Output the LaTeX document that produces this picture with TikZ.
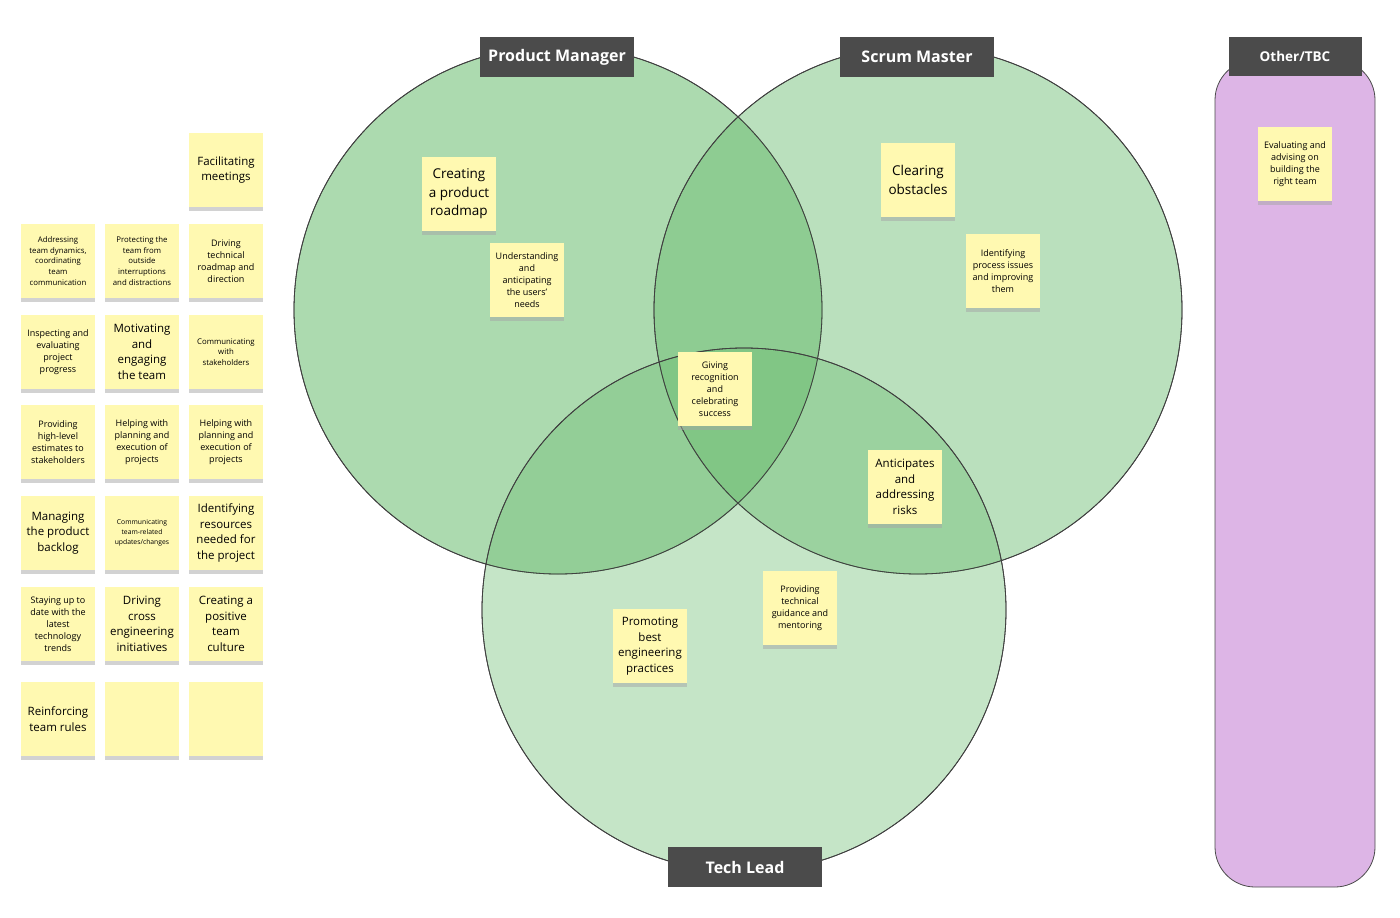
\documentclass[tikz,border=0pt]{standalone}
\usepackage{fontspec}
\setmainfont{Open Sans}
\usetikzlibrary{shadows}
\begin{document}
\begin{tikzpicture}[x=1pt,y=-1pt,
  note/.style={fill=noteY,minimum width=74pt,minimum height=74pt,align=center,inner sep=1pt,
    drop shadow={shadow xshift=0pt,shadow yshift=-4pt,fill=black!35,opacity=0.5}},
  big/.style={note,font=\fontsize{13.5}{18.5}\selectfont},
  med/.style={note,font=\fontsize{11.5}{15.5}\selectfont},
  sm/.style={note,font=\fontsize{9}{12}\selectfont},
  tiny/.style={note,font=\fontsize{7.8}{10.8}\selectfont},
  role/.style={fill=roleG,text=white,font=\bfseries\fontsize{16}{18}\selectfont,minimum width=154pt,minimum height=40pt,inner sep=0pt},
  venn/.style={draw=black!75,line width=0.8pt,fill=vennG}]
\definecolor{noteY}{RGB}{255,249,177}
\definecolor{roleG}{RGB}{75,75,75}
\definecolor{vennG}{RGB}{110,190,115}
\definecolor{purp}{RGB}{221,181,230}
\useasboundingbox (0,0) rectangle (1400,918);
\fill[white] (0,0) rectangle (1400,918);
\fill[venn,fill opacity=0.57] (558,310) circle (264);
\fill[venn,fill opacity=0.47] (918,310) circle (264);
\fill[venn,fill opacity=0.4] (744,610) circle (262);
\draw[draw=black!75,line width=0.8pt] (558,310) circle (264) (918,310) circle (264) (744,610) circle (262);
\draw[fill=purp,draw=black!70,line width=0.8pt,rounded corners=40pt] (1215,60) rectangle (1375,887);
\node[role] (pm) at (557,57) {Product Manager};
\node[role] (scm) at (917,57) {Scrum Master};
\node[role] (tl) at (745,867) {Tech Lead};
\node[role,minimum width=133pt,minimum height=39pt,font=\bfseries\fontsize{13.5}{15}\selectfont] (oth) at (1295,56) {Other/TBC};
% venn notes
\node[big] (n1) at (459,194) {Creating\\a product\\roadmap};
\node[sm] (n2) at (527,280) {Understanding\\and\\anticipating\\the users'\\needs};
\node[big] (n3) at (918,180) {Clearing\\obstacles};
\node[sm] (n4) at (1003,271) {Identifying\\process issues\\and improving\\them};
\node[sm] (n5) at (715,389) {Giving\\recognition\\and\\celebrating\\success};
\node[med] (n6) at (905,487) {Anticipates\\and\\addressing\\risks};
\node[sm] (n7) at (800,608) {Providing\\technical\\guidance and\\mentoring};
\node[med] (n8) at (650,646) {Promoting\\best\\engineering\\practices};
\node[sm] (n9) at (1295,164) {Evaluating and\\advising on\\building the\\right team};
% left grid
\node[med] (g0) at (226,170) {Facilitating\\meetings};
\node[tiny] (g1) at (58,261) {Addressing\\team dynamics,\\coordinating\\team\\communication};
\node[tiny] (g2) at (142,261) {Protecting the\\team from\\outside\\interruptions\\and distractions};
\node[sm] (g3) at (226,261) {Driving\\technical\\roadmap and\\direction};
\node[sm] (g4) at (58,352) {Inspecting and\\evaluating\\project\\progress};
\node[med] (g5) at (142,352) {Motivating\\and\\engaging\\the team};
\node[tiny] (g6) at (226,352) {Communicating\\with\\stakeholders};
\node[sm] (g7) at (58,442) {Providing\\high-level\\estimates to\\stakeholders};
\node[sm] (g8) at (142,442) {Helping with\\planning and\\execution of\\projects};
\node[sm] (g9) at (226,442) {Helping with\\planning and\\execution of\\projects};
\node[med] (g10) at (58,533) {Managing\\the product\\backlog};
\node[tiny,font=\fontsize{6.8}{10}\selectfont] (g11) at (142,533) {Communicating\\team-related\\updates/changes};
\node[med] (g12) at (226,533) {Identifying\\resources\\needed for\\the project};
\node[sm] (g13) at (58,624) {Staying up to\\date with the\\latest\\technology\\trends};
\node[med] (g14) at (142,624) {Driving\\cross\\engineering\\initiatives};
\node[med] (g15) at (226,624) {Creating a\\positive\\team\\culture};
\node[med] (g16) at (58,719) {Reinforcing\\team rules};
\node[med] (g17) at (142,719) {};
\node[med] (g18) at (226,719) {};
\end{tikzpicture}
\end{document}
